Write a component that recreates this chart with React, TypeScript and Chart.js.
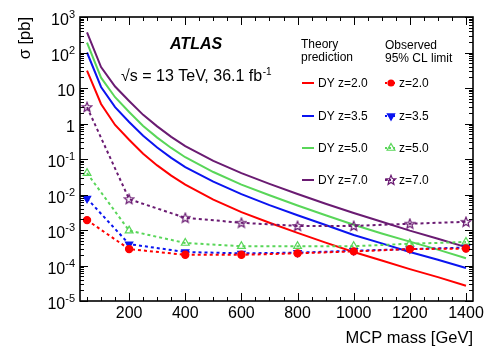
import React, { useEffect, useRef } from 'react';
import { Chart, registerables } from 'chart.js';

Chart.register(...registerables);

const FONT = '"Liberation Sans", Arial, Helvetica, sans-serif';

// Theory (Drell-Yan) cross sections [pb] vs MCP mass [GeV]
const massTheory = [50, 100, 150, 200, 250, 300, 350, 400, 500, 600, 700, 800, 900, 1000, 1100, 1200, 1300, 1400];
const dyZ20 = [31, 3.55, 0.91, 0.35, 0.141, 0.066, 0.034, 0.019, 7.2e-3, 3.2e-3, 1.6e-3, 8.3e-4, 4.4e-4, 2.4e-4, 1.38e-4, 7.9e-5, 4.7e-5, 2.7e-5];
const dyZ35 = [100, 10.7, 2.9, 1.1, 0.45, 0.21, 0.108, 0.059, 0.023, 0.0102, 5.0e-3, 2.6e-3, 1.38e-3, 7.2e-4, 4.2e-4, 2.4e-4, 1.45e-4, 8.5e-5];
const dyZ50 = [190, 19.5, 5.5, 2.1, 0.85, 0.4, 0.205, 0.112, 0.043, 0.019, 9.5e-3, 4.9e-3, 2.6e-3, 1.4e-3, 8.0e-4, 4.7e-4, 2.8e-4, 1.6e-4];
const dyZ70 = [370, 39, 11, 4.3, 1.75, 0.83, 0.42, 0.23, 0.088, 0.04, 0.02, 0.0103, 5.5e-3, 3.0e-3, 1.7e-3, 9.6e-4, 5.7e-4, 3.3e-4];

// Observed 95% CL limits [pb]
const massObs = [50, 200, 400, 600, 800, 1000, 1200, 1400];
const obsZ20 = [1.9e-3, 2.9e-4, 2.0e-4, 2.0e-4, 2.2e-4, 2.5e-4, 2.9e-4, 3.0e-4];
const obsZ35 = [7.7e-3, 4.0e-4, 2.4e-4, 2.2e-4, 2.3e-4, 2.6e-4, 2.9e-4, 3.2e-4];
const obsZ50 = [0.04, 9.6e-4, 4.3e-4, 3.5e-4, 3.5e-4, 3.5e-4, 4.1e-4, 4.6e-4];
const obsZ70 = [2.9, 7.4e-3, 2.2e-3, 1.6e-3, 1.3e-3, 1.3e-3, 1.5e-3, 1.7e-3];

const zLabels = ['2.0', '3.5', '5.0', '7.0'];
const xTickLabels = [200, 400, 600, 800, 1000, 1200, 1400];
const yTickExponents = [3, 2, 1, 0, -1, -2, -3, -4, -5];

const COLORS = ['#ff0000', '#0a14f0', '#59d659', '#6a1b72'];

function makeStar(color: string): HTMLCanvasElement {
  const c = document.createElement('canvas');
  c.width = 12;
  c.height = 12;
  const g = c.getContext('2d')!;
  g.strokeStyle = color;
  g.lineWidth = 1.2;
  g.beginPath();
  for (let k = 0; k < 10; k++) {
    const r = k % 2 === 0 ? 5 : 2.2;
    const a = -Math.PI / 2 + (k * Math.PI) / 5;
    const px = 6 + r * Math.cos(a);
    const py = 6.3 + r * Math.sin(a);
    if (k === 0) g.moveTo(px, py);
    else g.lineTo(px, py);
  }
  g.closePath();
  g.stroke();
  return c;
}

export default function App() {
  const ref = useRef<HTMLCanvasElement | null>(null);

  useEffect(() => {
    const canvas = ref.current;
    if (!canvas) return;
    const star = makeStar(COLORS[3]);

    const theory = [dyZ20, dyZ35, dyZ50, dyZ70];
    const obs = [obsZ20, obsZ35, obsZ50, obsZ70];
    const markerDefs: any[] = [
      { pointStyle: 'circle', radius: 3.6, rotation: 0, fill: true },
      { pointStyle: 'triangle', radius: 4.2, rotation: 180, fill: true },
      { pointStyle: 'triangle', radius: 4.5, rotation: 0, fill: false },
      { pointStyle: star, radius: 5, rotation: 0, fill: false },
    ];

    const datasets: any[] = [];
    theory.forEach((arr, i) => {
      datasets.push({
        label: 'DY z=' + zLabels[i],
        data: massTheory.map((m, k) => ({ x: m, y: arr[k] })),
        borderColor: COLORS[i],
        borderWidth: 2,
        pointRadius: 0,
        fill: false,
        tension: 0,
        order: 2,
      });
    });
    obs.forEach((arr, i) => {
      const md = markerDefs[i];
      datasets.push({
        label: 'z=' + zLabels[i],
        data: massObs.map((m, k) => ({ x: m, y: arr[k] })),
        borderColor: COLORS[i],
        backgroundColor: md.fill ? COLORS[i] : 'rgba(0,0,0,0)',
        borderWidth: 2,
        borderDash: [3, 3],
        pointStyle: md.pointStyle,
        pointRadius: md.radius,
        pointRotation: md.rotation,
        pointBorderWidth: 1.2,
        pointBorderColor: COLORS[i],
        pointBackgroundColor: md.fill ? COLORS[i] : 'rgba(0,0,0,0)',
        fill: false,
        tension: 0,
        order: 1,
      });
    });

    const decor = {
      id: 'decor',
      afterDraw(chart: any) {
        const ctx: CanvasRenderingContext2D = chart.ctx;
        const ca = chart.chartArea;
        const xs = chart.scales.x;
        const ys = chart.scales.y;
        ctx.save();
        ctx.strokeStyle = '#000';
        ctx.fillStyle = '#000';
        ctx.setLineDash([]);

        // x ticks (bottom and top, inward)
        ctx.lineWidth = 1;
        ctx.beginPath();
        for (let v = 50; v <= 1400; v += 50) {
          const px = Math.round(xs.getPixelForValue(v)) + 0.5;
          const len = v % 200 === 0 ? 8 : 4;
          ctx.moveTo(px, ca.bottom);
          ctx.lineTo(px, ca.bottom - len);
          ctx.moveTo(px, ca.top);
          ctx.lineTo(px, ca.top + len);
        }
        // y ticks (left and right, inward)
        for (let e = -5; e <= 3; e++) {
          for (let m = 1; m <= 9; m++) {
            const v = m * Math.pow(10, e);
            if (v > 1e3 + 1e-9) continue;
            const py = Math.round(ys.getPixelForValue(v)) + 0.5;
            const len = m === 1 ? 8 : 4;
            ctx.moveTo(ca.left, py);
            ctx.lineTo(ca.left + len, py);
            ctx.moveTo(ca.right, py);
            ctx.lineTo(ca.right - len, py);
          }
        }
        ctx.stroke();

        // frame
        ctx.lineWidth = 1.6;
        ctx.strokeRect(ca.left, ca.top, ca.right - ca.left, ca.bottom - ca.top);

        // y tick labels
        ctx.textBaseline = 'alphabetic';
        ctx.textAlign = 'right';
        const lr = ca.left - 5;
        for (const e of yTickExponents) {
          const py = ys.getPixelForValue(Math.pow(10, e));
          if (e === 0 || e === 1) {
            ctx.font = `16px ${FONT}`;
            ctx.fillText(e === 0 ? '1' : '10', lr, py + 8);
          } else {
            const sup = String(e);
            ctx.font = `11px ${FONT}`;
            ctx.fillText(sup, lr, py + 1);
            const w = ctx.measureText(sup).width;
            ctx.font = `16px ${FONT}`;
            ctx.fillText('10', lr - w, py + 8);
          }
        }

        // x tick labels
        ctx.textAlign = 'center';
        ctx.font = `16px ${FONT}`;
        for (const v of xTickLabels) {
          ctx.fillText(String(v), xs.getPixelForValue(v), ca.bottom + 16.5);
        }

        // axis titles
        ctx.font = `16.5px ${FONT}`;
        ctx.textAlign = 'right';
        ctx.fillText('MCP mass [GeV]', ca.right, 343);
        ctx.save();
        ctx.translate(30, ca.top);
        ctx.rotate(-Math.PI / 2);
        ctx.textAlign = 'right';
        ctx.fillText('σ [pb]', 0, 0);
        ctx.restore();

        // ATLAS label and energy
        ctx.textAlign = 'left';
        ctx.font = `italic bold 16px ${FONT}`;
        ctx.fillText('ATLAS', 170, 49);
        ctx.font = `16px ${FONT}`;
        const en = '√s = 13 TeV, 36.1 fb';
        ctx.fillText(en, 121, 81);
        const ew = ctx.measureText(en).width;
        ctx.font = `10px ${FONT}`;
        ctx.fillText('-1', 121 + ew + 0.5, 75);

        // legend headers
        ctx.font = `12px ${FONT}`;
        ctx.fillText('Theory', 301, 48);
        ctx.fillText('prediction', 301, 60.5);
        ctx.fillText('Observed', 385, 49);
        ctx.fillText('95% CL limit', 385, 61.5);

        const rows = [83, 116, 148, 180];
        rows.forEach((ry, i) => {
          // theory sample
          ctx.setLineDash([]);
          ctx.strokeStyle = COLORS[i];
          ctx.lineWidth = 2;
          ctx.beginPath();
          ctx.moveTo(302, ry);
          ctx.lineTo(314, ry);
          ctx.stroke();
          ctx.fillStyle = '#000';
          ctx.fillText('DY z=' + zLabels[i], 318, ry + 4.3);
          // observed sample
          ctx.setLineDash([2, 2]);
          ctx.beginPath();
          ctx.moveTo(385, ry);
          ctx.lineTo(397, ry);
          ctx.stroke();
          ctx.setLineDash([]);
          const md = markerDefs[i];
          ctx.fillStyle = COLORS[i];
          ctx.lineWidth = 1.2;
          if (md.pointStyle === 'circle') {
            ctx.beginPath();
            ctx.arc(391, ry, md.radius, 0, Math.PI * 2);
            ctx.fill();
          } else if (md.pointStyle === 'triangle') {
            const r = md.radius;
            const rot = (md.rotation * Math.PI) / 180;
            ctx.beginPath();
            for (let k = 0; k < 3; k++) {
              const a = rot + (k * 2 * Math.PI) / 3;
              const px = 391 + Math.sin(a) * r;
              const py = ry - Math.cos(a) * r;
              if (k === 0) ctx.moveTo(px, py);
              else ctx.lineTo(px, py);
            }
            ctx.closePath();
            if (md.fill) ctx.fill();
            ctx.stroke();
          } else {
            ctx.drawImage(md.pointStyle, 391 - 6, ry - 6);
          }
          ctx.fillStyle = '#000';
          ctx.fillText('z=' + zLabels[i], 399, ry + 4.3);
        });

        ctx.restore();
      },
    };

    const chart = new Chart(canvas, {
      type: 'line',
      data: { datasets },
      options: {
        animation: false,
        responsive: false,
        devicePixelRatio: 1,
        layout: { padding: { left: 80, right: 25, top: 17, bottom: 57 } },
        plugins: { legend: { display: false }, tooltip: { enabled: false } },
        scales: {
          x: { type: 'linear', min: 25, max: 1425, display: false },
          y: { type: 'logarithmic', min: 1e-5, max: 1e3, display: false },
        },
      },
      plugins: [decor],
    } as any);

    return () => chart.destroy();
  }, []);

  return (
    <div style={{ position: 'fixed', left: 0, top: 0, width: 498, height: 358, background: '#fff' }}>
      <canvas ref={ref} width={498} height={358} style={{ display: 'block', width: 498, height: 358 }} />
    </div>
  );
}
